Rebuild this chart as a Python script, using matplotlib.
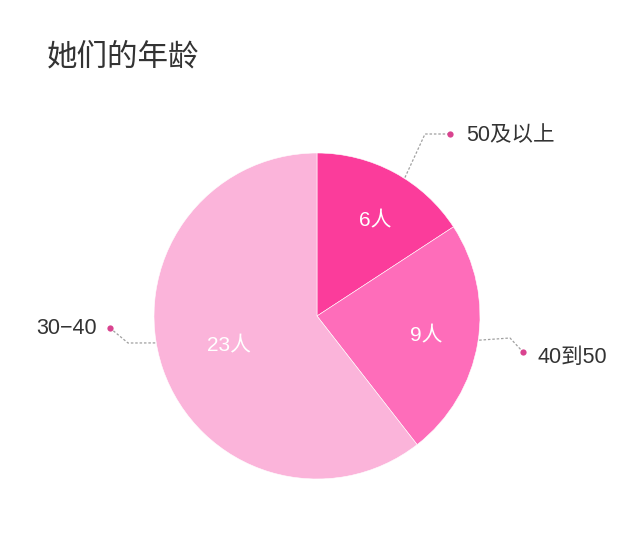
import matplotlib
matplotlib.use("Agg")
import matplotlib.pyplot as plt
import numpy as np

FAM = ['Liberation Sans', 'Noto Sans CJK SC', 'DejaVu Sans']
plt.rcParams['font.family'] = FAM

title = "她们的年龄"
categories = ["50及以上", "40到50", "30\u221240"]
values = [6, 9, 23]
value_labels = ["6人", "9人", "23人"]
colors = ["#FB3C9B", "#FE6DBA", "#FBB4DA"]

W, H = 641, 548
fig = plt.figure(figsize=(W / 100, H / 100), dpi=100)
ax = fig.add_axes([0, 0, 1, 1])

def P(x, y):
    return (x, H - y)

cx, cy = P(317, 316)
R = 163
wedges, _ = ax.pie(values, colors=colors, startangle=90, counterclock=False,
                   center=(cx, cy), radius=R, frame=True,
                   wedgeprops=dict(edgecolor='white', linewidth=0.4))
ax.set_xlim(0, W)
ax.set_ylim(0, H)
ax.set_aspect('equal')
ax.axis('off')

# inner value labels
inner_r = [0.68, 0.68, 0.57]
inner_shift = [-3, -1, 0]
for w, lab, fr, sh in zip(wedges, value_labels, inner_r, inner_shift):
    mid = np.deg2rad((w.theta1 + w.theta2) / 2 + sh)
    x = cx + R * fr * np.cos(mid)
    y = cy + R * fr * np.sin(mid)
    ax.text(x, y, lab, color='white', fontsize=15, ha='center', va='center')

# leader lines
line_color = '#A0A0A0'
dot_color = '#D9438F'
text_color = '#333333'
angle_shift = [-4, 1, -9.5]
elbows = [P(425, 134), P(510, 338), P(128, 343)]
dots = [P(450, 134), P(523, 352), P(110, 328)]
text_pos = [(P(466, 136), 'left'), (P(537, 357), 'left'), (P(97, 328), 'right')]
for w, cat, sh, el, d, (tp, ha) in zip(wedges, categories, angle_shift, elbows, dots, text_pos):
    mid = np.deg2rad((w.theta1 + w.theta2) / 2 + sh)
    sx = cx + (R + 1) * np.cos(mid)
    sy = cy + (R + 1) * np.sin(mid)
    ax.plot([sx, el[0], d[0]], [sy, el[1], d[1]], color=line_color, lw=0.9,
            ls=(0, (2, 1.5)))
    ax.plot([d[0]], [d[1]], 'o', color=dot_color, ms=4.5, mec='none')
    ax.text(tp[0], tp[1], cat, color=text_color, fontsize=15.5, ha=ha, va='center')

ax.text(*P(47, 57), title, fontsize=22, color='#333333', ha='left', va='center',
        family=['Noto Sans CJK SC', 'DejaVu Sans'])

fig.savefig("out.png", dpi=100, facecolor='white')
